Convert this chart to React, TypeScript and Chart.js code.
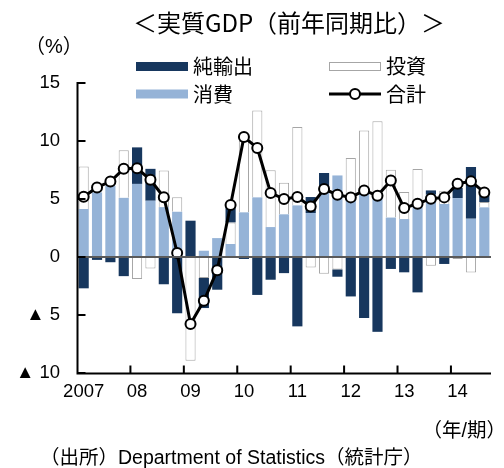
import React, { useEffect, useRef } from 'react';
import { Chart, registerables } from 'chart.js';

Chart.register(...registerables);

const quarters = [
  '2007Q1', '2007Q2', '2007Q3', '2007Q4',
  '2008Q1', '2008Q2', '2008Q3', '2008Q4',
  '2009Q1', '2009Q2', '2009Q3', '2009Q4',
  '2010Q1', '2010Q2', '2010Q3', '2010Q4',
  '2011Q1', '2011Q2', '2011Q3', '2011Q4',
  '2012Q1', '2012Q2', '2012Q3', '2012Q4',
  '2013Q1', '2013Q2', '2013Q3', '2013Q4',
  '2014Q1', '2014Q2', '2014Q3',
];
const yearLabels = ['2007', '08', '09', '10', '11', '12', '13', '14'];

const consumption = [4.14, 5.57, 6.15, 5.1, 6.3, 4.85, 4.3, 3.9, 0, 0.54, 1.63, 1.12, 3.85, 5.14, 2.58, 3.68, 4.45, 3.79, 6.0, 7.03, 5.1, 5.5, 5.1, 3.4, 3.27, 4.36, 5.37, 4.57, 5.08, 3.3, 4.28];
const investment = [3.66, null, null, 4.1, -1.9, -1.0, 3.15, 1.25, -8.95, -1.81, null, 1.86, 6.15, 7.5, 4.89, 2.72, 6.75, -0.9, -1.44, -1.07, 3.43, 5.4, 6.6, 4.12, 2.33, 3.23, -0.75, 1.15, -0.17, -1.33, 0.46];
const netExports = [-2.7, -0.25, -0.45, -1.65, 3.15, 2.75, -2.35, -4.85, 3.13, -2.59, -2.82, 1.44, -0.17, -3.27, -1.96, -1.39, -5.98, 1.38, 1.24, -0.63, -3.4, -5.26, -6.45, -1.03, -1.32, -3.05, 0.37, -0.6, 0.87, 4.46, 0.57];
const total = [5.2, 6.0, 6.5, 7.6, 7.65, 6.65, 5.15, 0.35, -5.78, -3.77, -1.15, 4.48, 10.34, 9.4, 5.52, 5.0, 5.17, 4.36, 5.86, 5.37, 5.14, 5.74, 5.28, 6.6, 4.22, 4.6, 5.03, 5.14, 6.32, 6.52, 5.57];

const yTickValues = [15, 10, 5, 0, -5, -10];
const yTickLabels = ['15', '10', '5', '0', '▲ 5', '▲ 10'];

const titleText = '＜実質GDP（前年同期比）＞';
const unitText = '（%）';
const xUnitText = '（年/期）';
const sourceText = '（出所）Department of Statistics（統計庁）';

const NAVY = '#17375E';
const LIGHT = '#95B3D7';
const GRAY_BORDER = '#a6a6a6';
const FONT = "'Liberation Sans', 'Noto Sans CJK JP', sans-serif";
const CJK = "'Noto Sans CJK JP', 'Liberation Sans', sans-serif";

const decorPlugin = {
  id: 'decor',
  afterDatasetDraw(chart: any, args: any) {
    if (args.index !== 0) return;
    const { ctx, chartArea, scales } = chart;
    const y0 = scales.y.getPixelForValue(0);
    ctx.save();
    ctx.strokeStyle = '#5a5a5a';
    ctx.lineWidth = 2;
    ctx.beginPath();
    ctx.moveTo(chartArea.left, y0);
    ctx.lineTo(chartArea.right, y0);
    ctx.stroke();
    ctx.restore();
  },
  afterDatasetsDraw(chart: any) {
    const { ctx, chartArea, scales } = chart;
    const { left, right, top, bottom } = chartArea;
    ctx.save();
    ctx.strokeStyle = '#000';
    ctx.lineWidth = 2;
    ctx.lineCap = 'butt';
    const ax = left + 0.5;
    ctx.beginPath();
    ctx.moveTo(ax, top);
    ctx.lineTo(ax, bottom + 1);
    yTickValues.forEach((v) => {
      const py = scales.y.getPixelForValue(v);
      ctx.moveTo(ax - 1, py);
      ctx.lineTo(ax + 8, py);
    });
    const by = bottom + 0.5;
    ctx.moveTo(left - 0.5, by);
    ctx.lineTo(right, by);
    for (let i = 4; i < quarters.length; i += 4) {
      const px = (scales.x.getPixelForValue(i - 1) + scales.x.getPixelForValue(i)) / 2;
      ctx.moveTo(px, by);
      ctx.lineTo(px, by - 8);
    }
    ctx.stroke();
    ctx.restore();
  },
  afterDraw(chart: any) {
    const { ctx } = chart;
    const ds = chart.data.datasets;
    ctx.save();
    ctx.fillStyle = '#000';
    ctx.textBaseline = 'middle';
    // title
    ctx.font = `24px ${CJK}`;
    ctx.textAlign = 'center';
    ctx.fillText(titleText, 289, 23);
    // unit labels and source
    ctx.font = `20px ${FONT}`;
    ctx.textAlign = 'left';
    ctx.fillText(unitText, 25, 47);
    ctx.font = `19.5px ${FONT}`;
    ctx.textAlign = 'right';
    ctx.fillText(xUnitText, 506, 432);
    ctx.textAlign = 'left';
    ctx.fillText(sourceText, 40, 459);

    // legend
    const byLabel = (l: string) => ds.find((d: any) => d.label === l);
    const items = [
      { d: byLabel('純輸出'), x: 136, y: 66.5 },
      { d: byLabel('投資'), x: 329, y: 66.5 },
      { d: byLabel('消費'), x: 136, y: 94 },
      { d: byLabel('合計'), x: 329, y: 94 },
    ];
    ctx.font = `20px ${CJK}`;
    items.forEach(({ d, x, y }) => {
      if (d.type === 'line') {
        ctx.strokeStyle = d.borderColor;
        ctx.lineWidth = d.borderWidth;
        ctx.beginPath();
        ctx.moveTo(x, y);
        ctx.lineTo(x + 52, y);
        ctx.stroke();
        ctx.beginPath();
        ctx.arc(x + 26, y, d.pointRadius, 0, Math.PI * 2);
        ctx.fillStyle = d.pointBackgroundColor;
        ctx.fill();
        ctx.lineWidth = d.pointBorderWidth;
        ctx.strokeStyle = d.pointBorderColor;
        ctx.stroke();
      } else {
        ctx.fillStyle = d.backgroundColor;
        ctx.fillRect(x, y - 4.5, 52, 9);
        if (d.borderWidth) {
          ctx.strokeStyle = d.borderColor;
          ctx.lineWidth = 1;
          ctx.strokeRect(x + 0.5, y - 4, 51, 8);
        }
      }
      ctx.fillStyle = '#000';
      ctx.textAlign = 'left';
      ctx.fillText(d.label, x + 57, y);
    });
    ctx.restore();
  },
};

export default function App() {
  const ref = useRef<HTMLCanvasElement>(null);
  useEffect(() => {
    const chart = new Chart(ref.current as HTMLCanvasElement, {
      data: {
        labels: quarters,
        datasets: [
          {
            type: 'line',
            label: '合計',
            data: total,
            order: -1,
            borderColor: '#000',
            borderWidth: 3,
            pointRadius: 5,
            pointBackgroundColor: '#fff',
            pointBorderColor: '#000',
            pointBorderWidth: 2,
            tension: 0,
          },
          {
            type: 'bar',
            label: '消費',
            data: consumption,
            backgroundColor: LIGHT,
            borderWidth: 0,
            order: 0,
          },
          {
            type: 'bar',
            label: '投資',
            data: investment,
            backgroundColor: '#ffffff',
            borderColor: GRAY_BORDER,
            borderWidth: 1,
            order: 1,
          },
          {
            type: 'bar',
            label: '純輸出',
            data: netExports,
            backgroundColor: NAVY,
            borderWidth: 0,
            order: 2,
          },
        ] as any,
      },
      options: {
        responsive: false,
        animation: false,
        devicePixelRatio: 1,
        layout: { padding: { top: 83, right: 13, left: 0, bottom: 0 } },
        datasets: { bar: { barPercentage: 0.76, categoryPercentage: 1 } } as any,
        plugins: { legend: { display: false }, tooltip: { enabled: false }, title: { display: false } },
        scales: {
          x: {
            stacked: true,
            offset: true,
            grid: { display: false, drawTicks: false },
            border: { display: false },
            afterFit: (s: any) => { s.height = 95; },
            ticks: {
              autoSkip: false,
              maxRotation: 0,
              minRotation: 0,
              padding: 8,
              color: '#000',
              font: { family: FONT, size: 18.5 },
              callback: (_v: any, i: number) => (i % 4 === 0 ? yearLabels[i / 4] : ''),
            },
          },
          y: {
            stacked: true,
            min: -10,
            max: 15,
            grid: { display: false, drawTicks: false },
            border: { display: false },
            afterFit: (s: any) => { s.width = 77; },
            afterBuildTicks: (s: any) => { s.ticks = yTickValues.map((v) => ({ value: v })); },
            ticks: {
              padding: 17,
              color: '#000',
              font: { family: FONT, size: 18.5 },
              callback: (v: any) => {
                const i = yTickValues.indexOf(Number(v));
                return i >= 0 ? yTickLabels[i] : '';
              },
            },
          },
        },
      },
      plugins: [decorPlugin],
    } as any);
    return () => chart.destroy();
  }, []);
  return (
    <div style={{ position: 'absolute', left: 0, top: 0, width: 504, height: 468, background: '#fff' }}>
      <canvas ref={ref} width={504} height={468} style={{ display: 'block', width: 504, height: 468 }} />
    </div>
  );
}
